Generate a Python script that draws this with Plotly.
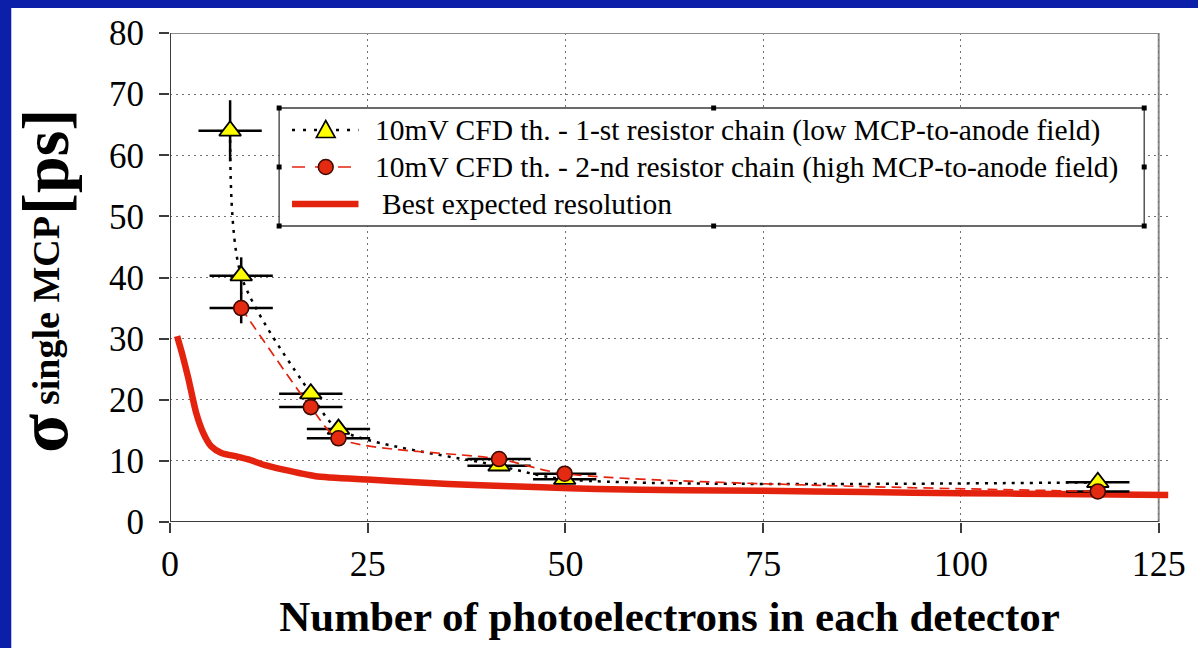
import plotly.graph_objects as go

# ---- data -------------------------------------------------------------
# Best expected resolution (solid red curve)
best_n = [0.9, 1.6, 2.3, 3.3, 4.2, 5.2, 6.5, 8.5, 10.0, 12.0, 14.2, 18.4,
          25.0, 31.0, 39.3, 47.0, 54.0, 65.0, 75.0, 88.0, 100.0, 112.0, 126.2]
best_sigma = [30.4, 27.2, 23.6, 17.9, 14.6, 12.4, 11.3, 10.7, 10.2, 9.3, 8.6, 7.5,
              6.95, 6.5, 6.0, 5.7, 5.4, 5.2, 5.1, 4.9, 4.7, 4.6, 4.4]

# 10mV CFD threshold, 1-st resistor chain
chain1_n = [7.6, 9.0, 17.8, 21.3, 41.6, 49.9, 117.3]
chain1_sigma = [64.0, 40.3, 21.0, 15.2, 9.2, 7.0, 6.5]
chain1_n_err = [4.0, 4.0, 4.0, 4.0, 4.0, 4.0, 4.0]
chain1_sigma_err = [5.0, 3.0, 1.2, 1.0, 0.8, 0.7, 0.7]

# 10mV CFD threshold, 2-nd resistor chain
chain2_n = [9.0, 17.8, 21.3, 41.6, 49.9, 117.3]
chain2_sigma = [35.0, 18.8, 13.7, 10.3, 7.9, 5.0]
chain2_n_err = [4.0, 4.0, 4.0, 4.0, 4.0, 4.0]
chain2_sigma_err = [2.5, 1.0, 0.8, 0.7, 0.6, 0.6]

x_ticks = [0, 25, 50, 75, 100, 125]
y_ticks = [0, 10, 20, 30, 40, 50, 60, 70, 80]

legend_names = [
    "10mV CFD th. - 1-st resistor chain (low MCP-to-anode field)",
    "10mV CFD th. - 2-nd resistor chain (high MCP-to-anode field)",
    "Best expected resolution",
]

# ---- geometry ---------------------------------------------------------
W, H = 1198, 648
ML, MR, MT, MB = 170, 21, 33, 126
X_MAX, Y_MAX = 126.3, 80
X_FRAME = 125
PW, PH = W - ML - MR, H - MT - MB


def px_x(p):
    return (p - ML) / PW


def px_y(p):
    return (H - MB - p) / PH


SERIF = "Liberation Serif"
BLUE = "#0b1fa9"
RED = "#e4230f"
CIRCLE_RED = "#e52a12"
YELLOW = "#ffff00"
DOTTED = "3px,6px"
DASHED = "10px,6px"

fig = go.Figure()

fig.add_trace(go.Scatter(
    x=best_n, y=best_sigma, mode="lines", name=legend_names[2], showlegend=False,
    line=dict(color=RED, width=6.5, shape="spline", smoothing=0.6),
))

fig.add_trace(go.Scatter(
    x=chain1_n, y=chain1_sigma, mode="lines+markers", name=legend_names[0], showlegend=False,
    line=dict(color="black", width=2.5, dash=DOTTED, shape="spline", smoothing=0.8),
    marker=dict(symbol="triangle-up", size=19, color=YELLOW,
                line=dict(color="black", width=1.8)),
    error_x=dict(type="data", array=chain1_n_err, color="black", thickness=2.5, width=0),
    error_y=dict(type="data", array=chain1_sigma_err, color="black", thickness=2.5, width=0),
))

fig.add_trace(go.Scatter(
    x=chain2_n, y=chain2_sigma, mode="lines+markers", name=legend_names[1], showlegend=False,
    line=dict(color=RED, width=1.7, dash=DASHED, shape="spline", smoothing=0.8),
    marker=dict(symbol="circle", size=15, color=CIRCLE_RED,
                line=dict(color="#3a0a00", width=1.6)),
    error_x=dict(type="data", array=chain2_n_err, color="black", thickness=2.5, width=0),
    error_y=dict(type="data", array=chain2_sigma_err, color="black", thickness=2.5, width=0),
))


def paper_rect(x0, y0, x1, y1, **kw):
    return dict(type="rect", xref="paper", yref="paper",
                x0=px_x(x0), x1=px_x(x1), y0=px_y(y1), y1=px_y(y0), **kw)


def paper_line(x0, y0, x1, y1, **kw):
    return dict(type="line", xref="paper", yref="paper",
                x0=px_x(x0), x1=px_x(x1), y0=px_y(y0), y1=px_y(y1), **kw)


shapes = [
    # blue slide edges (left and top)
    paper_rect(-20, -20, 10, H + 20, fillcolor=BLUE, line=dict(width=0), layer="below"),
    paper_rect(-20, -20, W + 20, 8, fillcolor=BLUE, line=dict(width=0), layer="below"),
    # plot frame (top / right)
    dict(type="line", xref="x", yref="y", x0=0, x1=X_FRAME, y0=Y_MAX, y1=Y_MAX,
         line=dict(color="#8c8c8c", width=2), layer="above"),
    dict(type="line", xref="x", yref="y", x0=X_FRAME, x1=X_FRAME, y0=0, y1=Y_MAX,
         line=dict(color="#8c8c8c", width=2), layer="below"),
    # axis lines (left / bottom)
    dict(type="line", xref="x", yref="y", x0=0, x1=0, y0=0, y1=Y_MAX,
         line=dict(color="#3c3c3c", width=2), layer="above"),
    dict(type="line", xref="x", yref="y", x0=0, x1=X_FRAME, y0=0, y1=0,
         line=dict(color="#3c3c3c", width=2), layer="above"),
]

# ---- legend box ---------------------------------------------------------
LG_L, LG_T, LG_R, LG_B = 280, 108, 1152, 226
ROW_Y = [130, 167, 204]
SAMPLE_X0, SAMPLE_X1, SAMPLE_MID = 293, 360, 327

shapes.append(paper_rect(LG_L, LG_T, LG_R, LG_B, fillcolor="white",
                         line=dict(color="#3a3a3a", width=1.3), layer="above"))
# selection handles on the legend frame
LG_MX, LG_MY = (LG_L + LG_R) / 2 + 2, (LG_T + LG_B) / 2
for hx, hy in [(LG_L, LG_T), (LG_MX, LG_T), (LG_R, LG_T), (LG_L, LG_MY),
               (LG_R, LG_MY), (LG_L, LG_B), (LG_MX, LG_B), (LG_R, LG_B)]:
    shapes.append(paper_rect(hx - 2.5, hy - 2.5, hx + 2.5, hy + 2.5,
                             fillcolor="black", line=dict(width=0), layer="above"))

# row 1: dotted black line with yellow triangle
shapes.append(paper_line(SAMPLE_X0, ROW_Y[0], SAMPLE_X1, ROW_Y[0],
                         line=dict(color="black", width=2.5, dash="3px,8px"), layer="above"))
tx, ty = SAMPLE_MID, ROW_Y[0]
tri = "M {:.5f} {:.5f} L {:.5f} {:.5f} L {:.5f} {:.5f} Z".format(
    px_x(tx - 9.5), px_y(ty + 7.5), px_x(tx + 9.5), px_y(ty + 7.5), px_x(tx), px_y(ty - 9.5))
shapes.append(dict(type="path", xref="paper", yref="paper", path=tri,
                   fillcolor=YELLOW, line=dict(color="black", width=1.6), layer="above"))
# row 2: dashed red line with red circle
shapes.append(paper_line(SAMPLE_X0, ROW_Y[1], SAMPLE_X1, ROW_Y[1],
                         line=dict(color=RED, width=1.7, dash="13px,10px"), layer="above"))
shapes.append(paper_rect(SAMPLE_MID - 7.5, ROW_Y[1] - 7.5, SAMPLE_MID + 7.5, ROW_Y[1] + 7.5,
                         fillcolor=CIRCLE_RED, line=dict(color="#3a0a00", width=1.5),
                         layer="above"))
shapes[-1]["type"] = "circle"
# row 3: thick red line
shapes.append(paper_line(SAMPLE_X0, ROW_Y[2], SAMPLE_X1, ROW_Y[2],
                         line=dict(color=RED, width=6.5), layer="above"))

annotations = []
for name, ry, tx0 in zip(legend_names, ROW_Y, [375, 375, 382]):
    annotations.append(dict(
        text=name, xref="paper", yref="paper", x=px_x(tx0), y=px_y(ry),
        xanchor="left", yanchor="middle", showarrow=False,
        font=dict(family=SERIF, size=29.5, color="black")))

# ---- y-axis title (σ with subscript and unit) --------------------------
annotations += [
    dict(text="<b>σ</b>", xref="paper", yref="paper", x=px_x(42), y=px_y(434),
         showarrow=False, textangle=-90, xanchor="center", yanchor="middle",
         font=dict(family=SERIF, size=72, color="black")),
    dict(text="<b>single MCP</b>", xref="paper", yref="paper", x=px_x(45), y=px_y(310),
         showarrow=False, textangle=-90, xanchor="center", yanchor="middle",
         font=dict(family=SERIF, size=38, color="black")),
    dict(text="<b>[ps]</b>", xref="paper", yref="paper", x=px_x(44), y=px_y(162),
         showarrow=False, textangle=-90, xanchor="center", yanchor="middle",
         font=dict(family=SERIF, size=66, color="black")),
]

fig.update_layout(
    width=W, height=H,
    margin=dict(l=ML, r=MR, t=MT, b=MB, pad=0),
    paper_bgcolor="white",
    plot_bgcolor="white",
    font=dict(family=SERIF, color="black"),
    shapes=shapes,
    annotations=annotations,
    showlegend=False,
    xaxis=dict(
        range=[0, X_MAX], tickvals=x_ticks, ticktext=[str(v) for v in x_ticks],
        showgrid=True, gridcolor="#707070", gridwidth=1.2, griddash="2px,4px",
        zeroline=False, showline=False,
        ticks="outside", ticklen=10, tickwidth=1.5, tickcolor="#3c3c3c",
        tickfont=dict(family=SERIF, size=36, color="black"),
        title=dict(text="<b>Number of photoelectrons in each detector</b>",
                   font=dict(family=SERIF, size=43, color="black"), standoff=17),
    ),
    yaxis=dict(
        range=[0, Y_MAX], tickvals=y_ticks, ticktext=[str(v) for v in y_ticks],
        showgrid=True, gridcolor="#707070", gridwidth=1.2, griddash="2px,4px",
        zeroline=False, showline=False,
        ticks="outside", ticklen=10, tickwidth=1.5, tickcolor="#3c3c3c",
        tickfont=dict(family=SERIF, size=35, color="black"),
        ticklabelstandoff=8,
    ),
)

fig.write_html("out.html")
